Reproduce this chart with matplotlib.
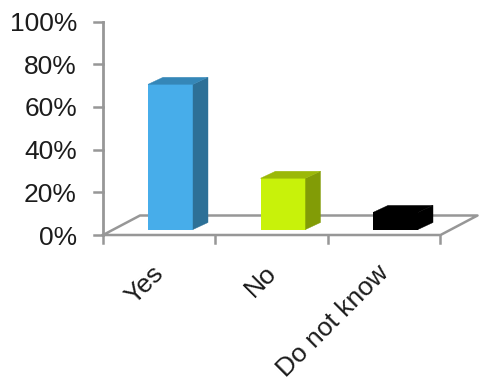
import matplotlib.pyplot as plt
from matplotlib.patches import Polygon

plt.rcParams['font.family'] = ['Liberation Sans', 'DejaVu Sans']

categories = ['Yes', 'No', 'Do not know']
percent = [68, 24, 8]
front_colors = ['#47adea', '#c8f20a', '#000000']
side_colors = ['#2d7097', '#829c06', '#000000']
top_colors = ['#3587b8', '#9bb808', '#000000']
y_ticks = [0, 20, 40, 60, 80, 100]

# fake 3d offsets, in data units
px_x = 1 / 112.5
px_y = 1 / 2.135
floor_dx = 37 * px_x
floor_dy = 19.5 * px_y
bar_dx = 15 * px_x
bar_dy = 7 * px_y
bar_base = 5.5 * px_y
bar_width = 0.4
grey = '#979797'

fig = plt.figure(figsize=(4.79, 3.83), dpi=100)
ax = fig.add_axes([0, 0, 1, 1])
ax.set_xlim(-103 * px_x, 376 * px_x)
ax.set_ylim(-148 * px_y, 235 * px_y)
ax.axis('off')

# floor
ax.plot([0, floor_dx, 3 + floor_dx, 3, 0],
        [0, floor_dy, floor_dy, 0, 0], color=grey, lw=1.8, zorder=1, clip_on=False)

# value axis and ticks
ax.plot([0, 0], [0, 100], color=grey, lw=2, zorder=2)
for t in y_ticks:
    ax.plot([-9 * px_x, 0], [t, t], color=grey, lw=1.8, zorder=2)
    ax.text(-26 * px_x, t - 1.2, str(t) + '%', ha='right', va='center', fontsize=19, color='#1c1c1c')

# category ticks
for i in range(len(categories) + 1):
    ax.plot([i, i], [0, -8 * px_y], color=grey, lw=1.8, zorder=2)

# bars: front face from ax.bar, side and top added as polygons
for i, (v, fc, sc, tc) in enumerate(zip(percent, front_colors, side_colors, top_colors)):
    x0 = i + 0.6 - bar_width / 2
    x1 = x0 + bar_width
    y0 = bar_base
    y1 = bar_base + v
    ax.bar(i + 0.6, v, bar_width, bottom=bar_base, color=fc, zorder=3)
    ax.add_patch(Polygon([(x1, y0), (x1 + bar_dx, y0 + bar_dy), (x1 + bar_dx, y1 + bar_dy), (x1, y1)],
                         closed=True, facecolor=sc, edgecolor=sc, lw=0.3, zorder=3))
    ax.add_patch(Polygon([(x0, y1), (x0 + bar_dx, y1 + bar_dy), (x1 + bar_dx, y1 + bar_dy), (x1, y1)],
                         closed=True, facecolor=tc, edgecolor=tc, lw=0.3, zorder=3))

# rotated category labels
for i, c in enumerate(categories):
    ax.text(i + 0.43, -26 * px_y, c, rotation=45, rotation_mode='anchor', ha='right', va='top',
            fontsize=19, color='#1c1c1c')

fig.savefig('out.png', dpi=100)
